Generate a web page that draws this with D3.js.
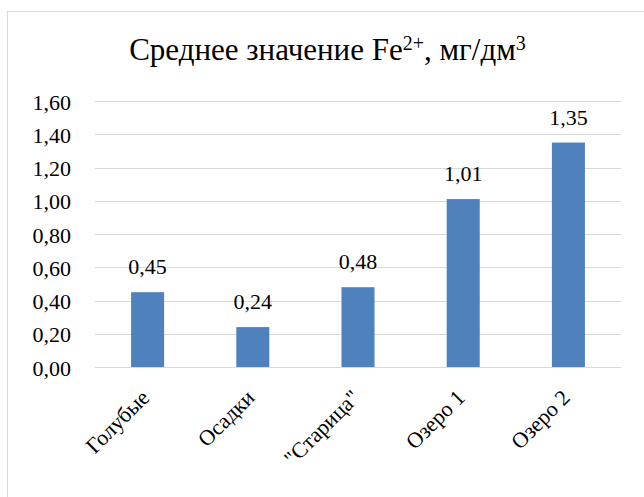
<!DOCTYPE html>
<html><head><meta charset="utf-8">
<script src="https://cdn.jsdelivr.net/npm/d3@7/dist/d3.min.js"></script>
<style>
svg text, svg tspan { font-family: "Liberation Serif", Tinos, "Times New Roman", serif !important; }
</style>
</head>
<body style="margin:0">
<svg id="c" width="644" height="497" style="display:block"></svg>
<script>
const categories = ["Голубые", "Осадки", "\"Старица\"", "Озеро 1", "Озеро 2"];
const values = [0.45, 0.24, 0.48, 1.01, 1.35];
const yTicks = [0, 0.2, 0.4, 0.6, 0.8, 1.0, 1.2, 1.4, 1.6];

const FONT = "Liberation Serif, Tinos, serif";
const svg = d3.select("#c");
const W = 644, H = 497;
const m = {left: 95, right: 23};

svg.append("rect").attr("x", 7.5).attr("y", 11.5).attr("width", W + 10).attr("height", H + 10)
  .attr("fill", "#fff").attr("stroke", "#d9d9d9").attr("stroke-width", 1);

const x = d3.scaleBand().domain(categories).range([m.left, W - m.right])
  .paddingInner(0.686).paddingOuter(0.343);
const y = d3.scaleLinear().domain([0, 1.6]).range([367, 101]);

const fmt = v => d3.format(".2f")(v).replace(".", ",");

// gridlines
svg.append("g").selectAll("line").data(yTicks).join("line")
  .attr("x1", m.left).attr("x2", W - m.right)
  .attr("y1", d => Math.round(y(d)) + 0.5).attr("y2", d => Math.round(y(d)) + 0.5)
  .attr("stroke", "#d9d9d9").attr("stroke-width", 1);

// y axis labels
const yAxis = d3.axisLeft(y).tickValues(yTicks).tickFormat(fmt).tickSize(0).tickPadding(0);
const ya = svg.append("g").attr("transform", "translate(71,0)").call(yAxis)
  .attr("font-family", FONT).attr("font-size", 22);
ya.select(".domain").remove();
ya.selectAll("text").attr("font-family", FONT).attr("font-size", 22).attr("fill", "#000")
  .attr("dy", null).attr("y", 8);

// bars
svg.append("g").selectAll("rect").data(values).join("rect")
  .attr("x", (d, i) => x(categories[i])).attr("width", x.bandwidth())
  .attr("y", d => y(d)).attr("height", d => y(0) - y(d))
  .attr("fill", "#4f81bd");

// data labels
svg.append("g").selectAll("text").data(values).join("text")
  .attr("x", (d, i) => x(categories[i]) + x.bandwidth() / 2)
  .attr("y", d => y(d) - 18)
  .attr("text-anchor", "middle").attr("font-family", FONT).attr("font-size", 22).attr("fill", "#000")
  .text(fmt);

// x axis labels
const xAxis = d3.axisBottom(x).tickSize(0).tickPadding(0);
const xa = svg.append("g").attr("transform", "translate(0,367)").call(xAxis)
  .attr("font-family", FONT).attr("font-size", 22);
xa.select(".domain").remove();
xa.selectAll("text")
  .attr("font-family", FONT).attr("font-size", 22).attr("fill", "#000")
  .attr("text-anchor", "end").attr("dy", null).attr("y", 0)
  .attr("transform", "translate(3,32) rotate(-45)");

// title
const t = svg.append("text").attr("x", 327.5).attr("y", 60).attr("text-anchor", "middle")
  .attr("font-family", FONT).attr("font-size", 31).attr("fill", "#000");
t.append("tspan").text("Среднее значение Fe");
t.append("tspan").attr("font-size", 20).attr("dy", -10).text("2+");
t.append("tspan").attr("dy", 10).text(", мг/дм");
t.append("tspan").attr("font-size", 20).attr("dy", -10).text("3");
</script>
</body></html>
